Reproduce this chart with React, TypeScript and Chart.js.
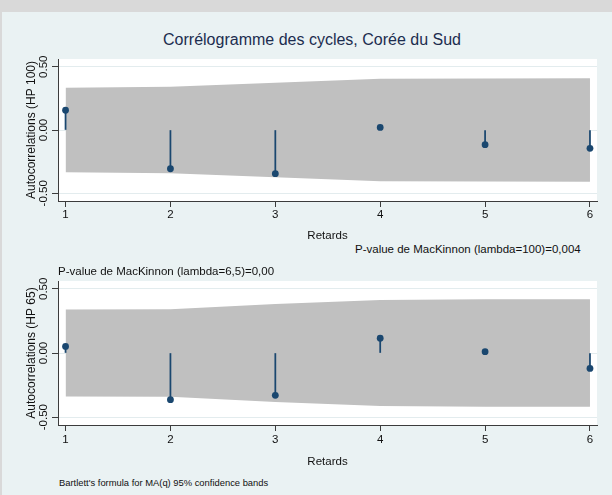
import React, { useEffect, useRef } from 'react';
import { Chart, registerables } from 'chart.js';
Chart.register(...registerables);

// ---- data ----
const lags = [1, 2, 3, 4, 5, 6];
const acfHP100 = [0.156, -0.306, -0.345, 0.02, -0.116, -0.145];
const bandHP100 = [0.334, 0.342, 0.373, 0.404, 0.406, 0.408];
const acfHP65 = [0.051, -0.364, -0.33, 0.115, 0.01, -0.12];
const bandHP65 = [0.338, 0.34, 0.382, 0.413, 0.418, 0.419];
const yTickValues = [-0.5, 0, 0.5];
const xTickValues = [1, 2, 3, 4, 5, 6];

const titleText = 'Corrélogramme des cycles, Corée du Sud';
const yTitle100 = 'Autocorrelations (HP 100)';
const yTitle65 = 'Autocorrelations (HP 65)';
const xTitle = 'Retards';
const note100 = 'P-value de MacKinnon (lambda=100)=0,004';
const note65 = 'P-value de MacKinnon (lambda=6,5)=0,00';
const noteBartlett = "Bartlett's formula for MA(q) 95% confidence bands";

const FONT = '"Liberation Sans", Arial, Helvetica, sans-serif';
const NAVY = '#1A476F';
const BAND = '#C0C0C0';
const AXIS = '#3C3C3C';
const BG = '#EAF2F3';

const plotBg = {
  id: 'plotBg',
  beforeDraw(chart: any) {
    const { ctx, chartArea } = chart;
    if (!chartArea) return;
    ctx.save();
    ctx.fillStyle = '#FFFFFF';
    ctx.fillRect(chartArea.left, chartArea.top, chartArea.right - chartArea.left, chartArea.bottom - chartArea.top);
    ctx.restore();
  },
};

type PanelProps = {
  acf: number[];
  band: number[];
  yTitle: string;
  top: number;
  plotH: number;
  axisH: number;
  xTickPad: number;
};

function Panel({ acf, band, yTitle, top, plotH, axisH, xTickPad }: PanelProps) {
  const ref = useRef<HTMLCanvasElement | null>(null);
  const padTop = 9;
  const height = padTop + plotH + axisH;

  useEffect(() => {
    if (!ref.current) return;
    const chart = new Chart(ref.current, {
      type: 'scatter',
      data: {
        datasets: [
          {
            type: 'line',
            data: lags.map((x, i) => ({ x, y: band[i] })),
            fill: '+1',
            backgroundColor: BAND,
            borderColor: 'rgba(0,0,0,0)',
            borderWidth: 0,
            pointRadius: 0,
            tension: 0,
            order: 5,
          } as any,
          {
            type: 'line',
            data: lags.map((x, i) => ({ x, y: -band[i] })),
            fill: false,
            borderColor: 'rgba(0,0,0,0)',
            borderWidth: 0,
            pointRadius: 0,
            tension: 0,
            order: 5,
          } as any,
          {
            type: 'bar',
            data: lags.map((x, i) => ({ x, y: [0, acf[i]] })),
            backgroundColor: NAVY,
            borderWidth: 0,
            barThickness: 1.1,
            order: 2,
          } as any,
          {
            type: 'scatter',
            data: lags.map((x, i) => ({ x, y: acf[i] })),
            backgroundColor: NAVY,
            borderColor: NAVY,
            borderWidth: 0,
            pointRadius: 3.4,
            order: 1,
          } as any,
        ],
      },
      options: {
        responsive: false,
        animation: false,
        devicePixelRatio: 1,
        layout: { padding: { top: padTop, left: 0, right: 15, bottom: 0 } },
        plugins: { legend: { display: false }, tooltip: { enabled: false }, title: { display: false } },
        scales: {
          x: {
            type: 'linear',
            min: 0.928,
            max: 6.067,
            offset: false,
            afterBuildTicks: (s: any) => {
              s.ticks = xTickValues.map((v) => ({ value: v }));
            },
            afterFit: (s: any) => {
              s.height = axisH;
            },
            grid: { display: true, drawOnChartArea: false, offset: false, tickLength: 6, tickColor: AXIS, tickWidth: 1 },
            border: { display: true, color: AXIS, width: 1 },
            ticks: {
              autoSkip: false,
              maxRotation: 0,
              minRotation: 0,
              padding: xTickPad,
              color: '#111',
              font: { family: FONT, size: 11.5 },
              callback: (v: any) => String(v),
            },
            title: { display: true, text: xTitle, color: '#111', font: { family: FONT, size: 11.5 }, padding: { top: 0, bottom: 0 } },
          },
          y: {
            type: 'linear',
            min: -0.561,
            max: 0.561,
            afterBuildTicks: (s: any) => {
              s.ticks = yTickValues.map((v) => ({ value: v }));
            },
            afterFit: (s: any) => {
              s.width = 58;
            },
            grid: { display: true, drawOnChartArea: true, color: '#E3ECEE', lineWidth: 1, tickLength: 6, tickColor: AXIS, tickWidth: 1 },
            border: { display: true, color: AXIS, width: 1 },
            ticks: {
              minRotation: 90,
              maxRotation: 90,
              crossAlign: 'center',
              padding: -5,
              color: '#111',
              font: { family: FONT, size: 11.5 },
              callback: (v: any) => Number(v).toFixed(2),
            },
            title: { display: true, text: yTitle, color: '#111', font: { family: FONT, size: 12 }, padding: { top: 24.3, bottom: 0 } },
          },
        },
      } as any,
      plugins: [plotBg],
    });
    return () => chart.destroy();
  }, []);

  return (
    <canvas
      ref={ref}
      width={612}
      height={height}
      style={{ position: 'absolute', left: 0, top, width: 612, height }}
    />
  );
}

function Note({ text, left, cy, size }: { text: string; left: number; cy: number; size: number }) {
  const lh = size * 1.2;
  return (
    <div
      style={{
        position: 'absolute',
        left,
        top: cy - lh / 2,
        fontFamily: FONT,
        fontSize: size,
        lineHeight: `${lh}px`,
        color: '#111',
        whiteSpace: 'nowrap',
        zIndex: 2,
      }}
    >
      {text}
    </div>
  );
}

export default function App() {
  return (
    <div style={{ position: 'absolute', left: 0, top: 0, width: 612, height: 495, background: '#D9D9D9', overflow: 'hidden' }}>
      <div style={{ position: 'absolute', left: 2, top: 12, width: 610, height: 483, background: BG }} />
      <div
        style={{
          position: 'absolute',
          left: 312,
          top: 40 - 9.6,
          transform: 'translateX(-50%)',
          fontFamily: FONT,
          fontSize: 16,
          lineHeight: '19.2px',
          color: '#1C2D4F',
          whiteSpace: 'nowrap',
        }}
      >
        {titleText}
      </div>
      <Panel acf={acfHP100} band={bandHP100} yTitle={yTitle100} top={50} plotH={142} axisH={42} xTickPad={1} />
      <Panel acf={acfHP65} band={bandHP65} yTitle={yTitle65} top={272} plotH={144} axisH={44} xTickPad={2} />
      <Note text={note100} left={355} cy={250} size={11.5} />
      <Note text={note65} left={58} cy={272} size={11.5} />
      <Note text={noteBartlett} left={59} cy={483} size={9.4} />
    </div>
  );
}
